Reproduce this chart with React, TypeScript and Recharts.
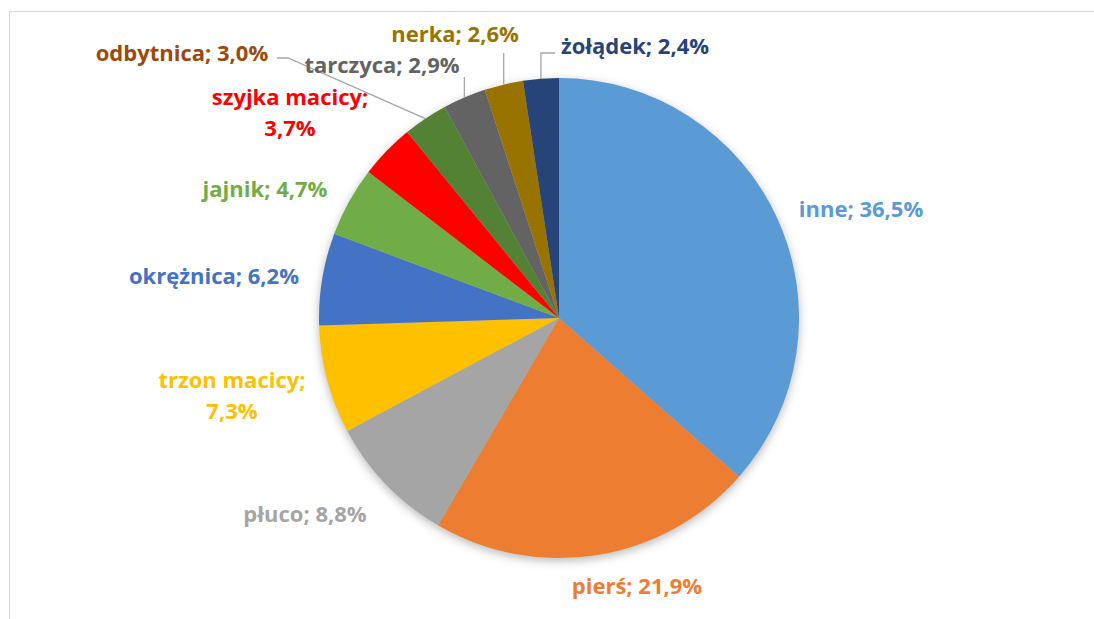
import { PieChart, Pie, Cell } from "recharts";

const names = [
  "inne",
  "pierś",
  "płuco",
  "trzon macicy",
  "okrężnica",
  "jajnik",
  "szyjka macicy",
  "odbytnica",
  "tarczyca",
  "nerka",
  "żołądek",
];
const shares = [36.5, 21.9, 8.8, 7.3, 6.2, 4.7, 3.7, 3.0, 2.9, 2.6, 2.4];
const sliceColors = [
  "#5B9BD5",
  "#ED7D31",
  "#A5A5A5",
  "#FFC000",
  "#4472C4",
  "#70AD47",
  "#FF0000",
  "#548235",
  "#636363",
  "#997300",
  "#264478",
];
const labelColors = [
  "#5B9BD5",
  "#ED7D31",
  "#A5A5A5",
  "#FFC000",
  "#4472C4",
  "#70AD47",
  "#FF0000",
  "#9E480E",
  "#636363",
  "#997300",
  "#264478",
];

const data = names.map((name, i) => ({ name, value: shares[i] }));

// manual label placement (offset of label centre from pie centre), like Excel's dragged labels
type Layout = {
  dx: number;
  dy: number;
  wrap?: boolean;
  // leader points after the slice edge; null x = keep previous x
  leader?: [number | null, number][];
};
const labelLayout: Record<string, Layout> = {
  inne: { dx: 302, dy: -110 },
  pierś: { dx: 78, dy: 267 },
  płuco: { dx: -254, dy: 195 },
  "trzon macicy": { dx: -327, dy: 77, wrap: true },
  okrężnica: { dx: -345, dy: -43 },
  jajnik: { dx: -294, dy: -130 },
  "szyjka macicy": { dx: -269, dy: -206, wrap: true },
  odbytnica: { dx: -377, dy: -266, leader: [[-271, -260], [-282, -260]] },
  tarczyca: { dx: -177, dy: -254, leader: [[null, -241]] },
  nerka: { dx: -104, dy: -285, leader: [[null, -265]] },
  żołądek: { dx: 76, dy: -273, leader: [[null, -265], [-4, -265]] },
};

const RAD = Math.PI / 180;
const fmt = (v: number) => v.toFixed(1).replace(".", ",") + "%";

function renderLabel(props: any) {
  const { cx, cy, midAngle, outerRadius, index } = props;
  const name = names[index];
  const lay = labelLayout[name];
  const x = cx + lay.dx;
  const y = cy + lay.dy;
  const color = labelColors[index];
  const style = {
    fontFamily: "'Open Sans', 'Noto Sans', sans-serif",
    fontWeight: 700,
    fontSize: 22,
  };

  let leader = null;
  if (lay.leader) {
    const sx = cx + outerRadius * Math.cos(-midAngle * RAD);
    const sy = cy + outerRadius * Math.sin(-midAngle * RAD);
    const pts: [number, number][] = [[sx, sy]];
    lay.leader.forEach(([px, py]) => {
      const prev = pts[pts.length - 1];
      pts.push([px === null ? prev[0] : cx + px, cy + py]);
    });
    leader = (
      <polyline
        points={pts.map((p) => p.join(",")).join(" ")}
        fill="none"
        stroke="#A6A6A6"
        strokeWidth={1.3}
      />
    );
  }

  const text = `${name}; ${fmt(shares[index])}`;
  return (
    <g key={`lbl-${index}`}>
      {leader}
      {lay.wrap ? (
        <text x={x} y={y} fill={color} textAnchor="middle" style={style}>
          <tspan x={x} dy={-7}>{`${name};`}</tspan>
          <tspan x={x} dy={31}>{fmt(shares[index])}</tspan>
        </text>
      ) : (
        <text
          x={x}
          y={y}
          fill={color}
          textAnchor="middle"
          dominantBaseline="central"
          style={style}
        >
          {text}
        </text>
      )}
    </g>
  );
}

export default function App() {
  return (
    <div
      style={{
        position: "absolute",
        left: 0,
        top: 0,
        width: 1094,
        height: 619,
        background: "#fff",
      }}
    >
      <style>{`.recharts-pie > .recharts-layer:first-child{filter:drop-shadow(0 3px 5px rgba(0,0,0,0.28))}`}</style>
      <div
        style={{
          position: "absolute",
          left: 9,
          top: 11,
          width: 1100,
          height: 640,
          border: "1.5px solid #D9D9D9",
        }}
      />
      <PieChart width={1094} height={619} style={{ position: "absolute", left: 0, top: 0 }}>
        <Pie
          data={data}
          dataKey="value"
          nameKey="name"
          cx={554}
          cy={313}
          outerRadius={240}
          startAngle={90}
          endAngle={-270}
          stroke="none"
          label={renderLabel}
          labelLine={false}
          isAnimationActive={false}
        >
          {data.map((d, i) => (
            <Cell key={d.name} fill={sliceColors[i]} />
          ))}
        </Pie>
      </PieChart>
    </div>
  );
}
